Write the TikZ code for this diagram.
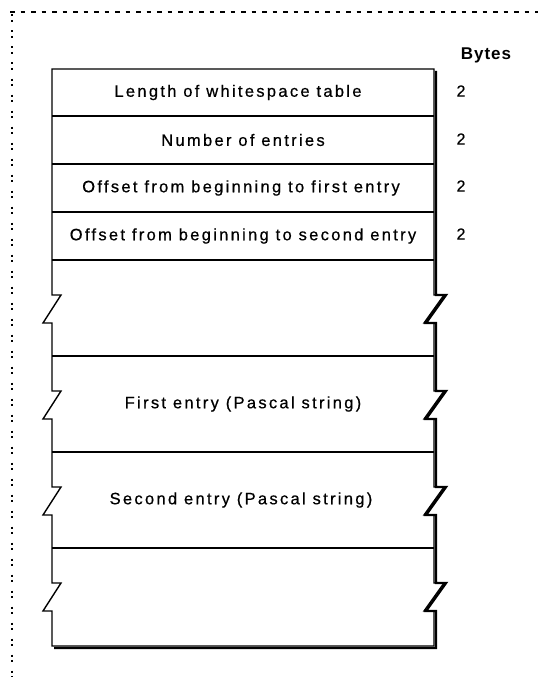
\documentclass[tikz,border=0pt]{standalone}
\usepackage{fontspec}
\setmainfont{Liberation Sans}
\newfontfamily\rowfont[LetterSpace=14,FakeBold=0.6]{Liberation Sans}
\newfontfamily\numfont[FakeBold=0.6]{Liberation Sans}
\newfontfamily\bytesfont[LetterSpace=6]{Liberation Sans}
\begin{document}
\begin{tikzpicture}[x=1pt,y=-1pt,
  rowtext/.style={font=\rowfont\fontsize{16.5}{18}\selectfont, inner sep=0pt, anchor=center},
  numtext/.style={font=\numfont\fontsize{16}{18}\selectfont, inner sep=0pt, anchor=center},
  outline/.style={line width=1.4pt, line join=miter},
  shadowline/.style={line width=2.4pt, line join=miter},
  rowline/.style={line width=1.4pt},
  framedash/.style={line width=1.8pt, dash pattern=on 4.5pt off 6pt},
  framedots/.style={line width=2pt, dash pattern=on 2pt off 3.4pt on 2pt off 8.6pt}]
\useasboundingbox (0,0) rectangle (538,677);
% dotted frame
\draw[framedash] (10,12) -- (538,12);
\draw[framedots] (11.5,14.5) -- (11.5,677);
% outline of table
\draw[outline] (434,69) -- (52,69)
  -- (52,295) -- (61,295) -- (43,323) -- (52,323)
  -- (52,391) -- (61,391) -- (43,419) -- (52,419)
  -- (52,487) -- (61,487) -- (43,515) -- (52,515)
  -- (52,583) -- (61,583) -- (43,611) -- (52,611)
  -- (52,646) -- (434,646)
  -- (434,611) -- (424,611) -- (444,583) -- (434,583)
  -- (434,515) -- (424,515) -- (444,487) -- (434,487)
  -- (434,419) -- (424,419) -- (444,391) -- (434,391)
  -- (434,323) -- (424,323) -- (444,295) -- (434,295)
  -- cycle;
% shadow on right and bottom
\draw[shadowline] (436,71)
  -- (436,295) -- (446,295) -- (426,323) -- (436,323)
  -- (436,391) -- (446,391) -- (426,419) -- (436,419)
  -- (436,487) -- (446,487) -- (426,515) -- (436,515)
  -- (436,583) -- (446,583) -- (426,611) -- (436,611)
  -- (436,648) -- (54,648);
% row separators
\foreach \yy in {116,164,212,260,356,452,548}
  \draw[rowline] (52,\yy) -- (434,\yy);
% texts
\node[rowtext] (r1) at (238,92.5) {Length of whitespace table};
\node[rowtext] (r2) at (243,140) {Number of entries};
\node[rowtext] (r3) at (241,188) {Offset from beginning to first entry};
\node[rowtext] (r4) at (243,236) {Offset from beginning to second entry};
\node[rowtext] (e1) at (243,404) {First entry (Pascal string)};
\node[rowtext] (e2) at (241,500) {Second entry (Pascal string)};
\node[font=\bytesfont\bfseries\fontsize{17}{19}\selectfont, inner sep=0pt] (bytes) at (486,55) {Bytes};
\node[numtext] (n1) at (461,91) {2};
\node[numtext] (n2) at (461,139) {2};
\node[numtext] (n3) at (461,186) {2};
\node[numtext] (n4) at (461,234) {2};
\end{tikzpicture}
\end{document}
